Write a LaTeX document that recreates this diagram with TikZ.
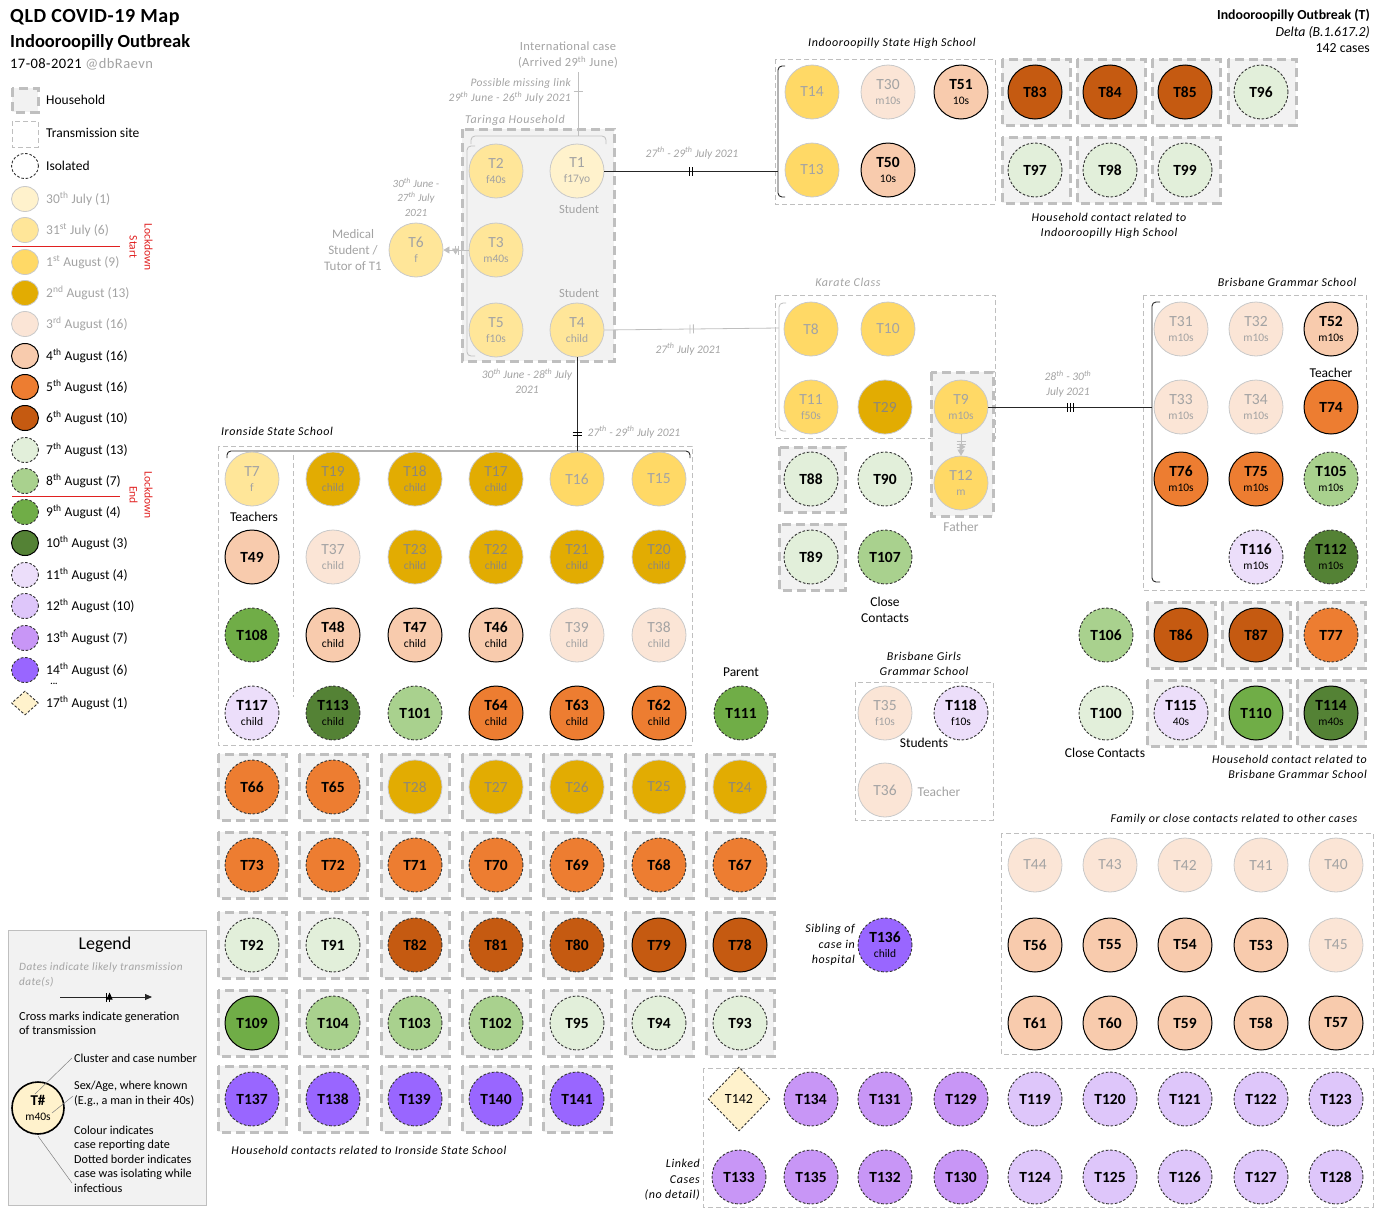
\documentclass[tikz,border=0pt]{standalone}
\usepackage{fontspec}
\setmainfont{Carlito}
\usetikzlibrary{shapes.geometric,arrows.meta,decorations.markings}
\definecolor{c30}{HTML}{FFF2CC}
\definecolor{c31}{HTML}{FFE699}
\definecolor{c1}{HTML}{FFD966}
\definecolor{c2}{HTML}{E2AC02}
\definecolor{c3}{HTML}{FBE5D6}
\definecolor{c4}{HTML}{F8CBAD}
\definecolor{c5}{HTML}{ED7D31}
\definecolor{c6}{HTML}{C55A11}
\definecolor{c7}{HTML}{E2EFDA}
\definecolor{c8}{HTML}{A9D18E}
\definecolor{c9}{HTML}{70AD47}
\definecolor{c10}{HTML}{548235}
\definecolor{c11}{HTML}{ECDEFA}
\definecolor{c12}{HTML}{DEC6FA}
\definecolor{c13}{HTML}{C896F6}
\definecolor{c14}{HTML}{9966FF}
\definecolor{oldline}{HTML}{C9C9C9}
\definecolor{oldtext}{HTML}{A3A3A3}
\definecolor{goldtext}{HTML}{8E8878}
\definecolor{hhfill}{HTML}{F2F2F2}
\definecolor{hhline}{HTML}{BFBFBF}
\definecolor{isoline}{HTML}{333333}
\definecolor{lockred}{HTML}{E02020}
\newcommand\sbt[1]{{\fontsize{11.5}{12}\selectfont\mdseries #1}}
\newcommand\hhb[2]{\draw[hh] ({#1-34},{#2-33}) rectangle ({#1+34},{#2+33});}
\newcommand\thsup{\textsuperscript{th}}
\tikzset{
  case/.style={circle, minimum size=54pt, inner sep=0pt, align=center},
  old/.style={draw=oldline, line width=0.8pt, text=oldtext, font=\fontsize{15.5}{15}\selectfont},
  new/.style={draw=black, line width=1pt, text=black, font=\fontsize{15.5}{15}\selectfont\bfseries},
  iso/.style={draw=isoline, line width=0.9pt, dash pattern=on 2.6pt off 1.8pt},
  d30/.style={case, old, fill=c30},
  d31/.style={case, old, fill=c31},
  d1/.style={case, old, fill=c1},
  d2/.style={case, old, fill=c2, text=goldtext},
  d3/.style={case, old, fill=c3},
  d4/.style={case, new, fill=c4},
  d5/.style={case, new, fill=c5},
  d6/.style={case, new, fill=c6},
  d7/.style={case, new, fill=c7, iso},
  d8/.style={case, new, fill=c8, iso},
  d9/.style={case, new, fill=c9},
  d10/.style={case, new, fill=c10},
  d11/.style={case, new, fill=c11, iso},
  d12/.style={case, new, fill=c12, iso},
  d13/.style={case, new, fill=c13, iso},
  d14/.style={case, new, fill=c14, iso},
  lg/.style={ellipse, minimum width=27pt, minimum height=25pt, inner sep=0pt},
  hh/.style={fill=hhfill, draw=hhline, line width=3pt, dash pattern=on 9pt off 5pt},
  site/.style={draw=hhline, line width=0.8pt, dash pattern=on 5pt off 3pt},
  lbl/.style={font=\fontsize{13.5}{16}\selectfont, inner sep=0pt, align=center},
  glbl/.style={lbl, text=oldtext},
  ilbl/.style={font=\fontsize{12}{15.5}\selectfont\itshape\addfontfeatures{LetterSpace=5}, inner sep=0pt, align=center},
  gilbl/.style={ilbl, text=oldtext},
  dlbl/.style={font=\fontsize{11.5}{15}\selectfont\itshape, inner sep=0pt, align=center, text=oldtext},
  sm/.style={lbl, anchor=west, align=left, font=\fontsize{12.2}{14.5}\selectfont},
  link/.style={line width=0.9pt, draw=black!85},
  glink/.style={line width=0.8pt, draw=hhline},
  tkb2/.style={postaction={decorate, decoration={markings, mark=at position #1 with {\draw[black, line width=0.9pt] (-1.7pt,-4.5pt) -- (-1.7pt,4.5pt) (1.7pt,-4.5pt) -- (1.7pt,4.5pt);}}}},
  tkb3/.style={postaction={decorate, decoration={markings, mark=at position #1 with {\draw[black, line width=0.9pt] (-3pt,-4.5pt) -- (-3pt,4.5pt) (0pt,-4.5pt) -- (0pt,4.5pt) (3pt,-4.5pt) -- (3pt,4.5pt);}}}},
  tkg1/.style={postaction={decorate, decoration={markings, mark=at position #1 with {\draw[hhline, line width=0.8pt] (0pt,-4.5pt) -- (0pt,4.5pt);}}}},
  tkg2/.style={postaction={decorate, decoration={markings, mark=at position #1 with {\draw[hhline, line width=0.8pt] (-1.7pt,-4.5pt) -- (-1.7pt,4.5pt) (1.7pt,-4.5pt) -- (1.7pt,4.5pt);}}}},
  tkg3/.style={postaction={decorate, decoration={markings, mark=at position #1 with {\draw[hhline, line width=0.8pt] (-3pt,-4.5pt) -- (-3pt,4.5pt) (0pt,-4.5pt) -- (0pt,4.5pt) (3pt,-4.5pt) -- (3pt,4.5pt);}}}},
}
\begin{document}
\begin{tikzpicture}[x=1pt,y=-1pt]
\useasboundingbox (0,0) rectangle (1380,1210);

% ---------- title ----------
\node[anchor=west, inner sep=0pt, font=\fontsize{20}{22}\selectfont\bfseries\addfontfeatures{LetterSpace=3}] (title1) at (10,18) {QLD COVID-19 Map};
\node[anchor=west, inner sep=0pt, font=\fontsize{18.5}{20}\selectfont\bfseries] (title2) at (10,42) {Indooroopilly Outbreak};
\node[anchor=west, inner sep=0pt, font=\fontsize{14.5}{16}\selectfont\addfontfeatures{LetterSpace=3}] (title3) at (10,64) {17-08-2021 \textcolor{oldtext}{@dbRaevn}};
\node[anchor=east, inner sep=0pt, align=right, font=\fontsize{13.8}{16.5}\selectfont] (trtitle) at (1370,31) {\textbf{Indooroopilly Outbreak (T)}\\\textit{Delta (B.1.617.2)}\\142 cases};

% ---------- left legend ----------
\draw[hh] (12,88) rectangle (38,112);
\node[lbl, anchor=west] (lhh) at (46,100) {Household};
\draw[site] (12,121) rectangle (38,147);
\node[lbl, anchor=west] (lsite) at (46,133) {Transmission site};
\node[lg, fill=white, iso] (Liso) at (25,166) {};
\node[lbl, anchor=west] (liso) at (46,166) {Isolated};
\node[lg, old, fill=c30] (L30) at (25,199) {};
\node[glbl, anchor=west] (l30) at (46,199) {30\thsup{} July (1)};
\node[lg, old, fill=c31] (L31) at (25,230) {};
\node[glbl, anchor=west] (l31) at (46,230) {31\textsuperscript{st} July (6)};
\node[lg, old, fill=c1] (L1) at (25,262) {};
\node[glbl, anchor=west] (l1) at (46,262) {1\textsuperscript{st} August (9)};
\node[lg, old, fill=c2] (L2) at (25,293) {};
\node[glbl, anchor=west] (l2) at (46,293) {2\textsuperscript{nd} August (13)};
\node[lg, old, fill=c3] (L3) at (25,324) {};
\node[glbl, anchor=west] (l3) at (46,324) {3\textsuperscript{rd} August (16)};
\node[lg, new, fill=c4] (L4) at (25,356) {};
\node[lbl, anchor=west] (l4) at (46,356) {4\thsup{} August (16)};
\node[lg, new, fill=c5] (L5) at (25,387) {};
\node[lbl, anchor=west] (l5) at (46,387) {5\thsup{} August (16)};
\node[lg, new, fill=c6] (L6) at (25,418) {};
\node[lbl, anchor=west] (l6) at (46,418) {6\thsup{} August (10)};
\node[lg, new, fill=c7, iso] (L7) at (25,450) {};
\node[lbl, anchor=west] (l7) at (46,450) {7\thsup{} August (13)};
\node[lg, new, fill=c8, iso] (L8) at (25,481) {};
\node[lbl, anchor=west] (l8) at (46,481) {8\thsup{} August (7)};
\node[lg, new, fill=c9, iso] (L9) at (25,512) {};
\node[lbl, anchor=west] (l9) at (46,512) {9\thsup{} August (4)};
\node[lg, new, fill=c10] (L10) at (25,543) {};
\node[lbl, anchor=west] (l10) at (46,543) {10\thsup{} August (3)};
\node[lg, new, fill=c11, iso] (L11) at (25,575) {};
\node[lbl, anchor=west] (l11) at (46,575) {11\thsup{} August (4)};
\node[lg, new, fill=c12, iso] (L12) at (25,606) {};
\node[lbl, anchor=west] (l12) at (46,606) {12\thsup{} August (10)};
\node[lg, new, fill=c13, iso] (L13) at (25,638) {};
\node[lbl, anchor=west] (l13) at (46,638) {13\thsup{} August (7)};
\node[lg, new, fill=c14, iso] (L14) at (25,670) {};
\node[lbl, anchor=west] (l14) at (46,670) {14\thsup{} August (6)};
\node[lbl, font=\fontsize{9}{9}\selectfont\bfseries] (ldots) at (54,684) {...};
\node[diamond, fill=c30, iso, minimum width=27pt, minimum height=24pt, inner sep=0pt] (L17) at (25,703) {};
\node[lbl, anchor=west] (l17) at (46,703) {17\thsup{} August (1)};
\draw[lockred, line width=0.8pt] (12,246) -- (120,246);
\draw[lockred, line width=0.8pt] (12,496) -- (120,496);
\node[rotate=-90, text=lockred, inner sep=0pt, align=center, font=\fontsize{11.5}{15}\selectfont] (lockS) at (141,247) {Lockdown\\Start};
\node[rotate=-90, text=lockred, inner sep=0pt, align=center, font=\fontsize{11.5}{15}\selectfont] (lockE) at (141,495) {Lockdown\\End};

% ---------- bottom-left legend ----------
\draw[draw=hhline, fill=hhfill, line width=0.8pt] (8,930) rectangle (206,1205);
\node[inner sep=0pt, font=\fontsize{18}{20}\selectfont] (legT) at (105,945) {Legend};
\node[gilbl, anchor=west, align=left, font=\fontsize{11.2}{15.5}\selectfont\itshape\addfontfeatures{LetterSpace=4}] (legD) at (19,975) {Dates indicate likely transmission\\date(s)};
\coordinate (la1) at (60,997);
\coordinate (la2) at (152,997);
\draw[link, -{Triangle[length=7pt,width=6pt]}, tkb2=0.52] (la1) -- (la2);
\node[sm, font=\fontsize{12.4}{14.5}\selectfont] (legC) at (19,1023) {Cross marks indicate generation\\of transmission};
\node[circle, minimum size=52pt, inner sep=0pt, draw=black, line width=1.6pt, fill=c30, align=center, font=\fontsize{15}{15}\selectfont\bfseries] (LT) at (38,1108) {T\#\\\sbt{m40s}};
\node[sm] (legN) at (74,1058) {Cluster and case number};
\node[sm] (legS) at (74,1094) {Sex/Age, where known\\(E.g., a man in their 40s)};
\node[sm] (legK) at (74,1159) {Colour indicates\\case reporting date\\Dotted border indicates\\case was isolating while\\infectious};
\coordinate (lp1) at (35,1094);
\coordinate (lq1) at (72,1058);
\coordinate (lp2) at (52,1113);
\coordinate (lq2) at (73,1096);
\coordinate (lp3) at (38,1136);
\coordinate (lq3) at (72,1183);
\draw[line width=0.5pt, draw=gray] (lp1) -- (lq1);
\draw[line width=0.5pt, draw=gray] (lp2) -- (lq2);
\draw[line width=0.5pt, draw=gray] (lp3) -- (lq3);

% ---------- Taringa household ----------
\draw[hh] (462,129) rectangle (614,361);
\node[gilbl] (taringaT) at (515,120) {Taringa Household};
\draw[glink, rounded corners=4pt] (471,144) -- (471,136) -- (606,136) -- (606,144);
\draw[glink, rounded corners=4pt] (475,146) -- (467,146) -- (467,356) -- (475,356);
\coordinate (tarTop) at (578,136);
\node[d31] (T2) at (496,171) {T2\\\sbt{f40s}};
\node[d30] (T1) at (577,171) {T1\\\sbt{f17yo}};
\node[d31] (T3) at (496,250) {T3\\\sbt{m40s}};
\node[d31] (T5) at (496,330) {T5\\\sbt{f10s}};
\node[d31] (T4) at (577,330) {T4\\\sbt{child}};
\node[d31] (T6) at (416,250) {T6\\\sbt{f}};
\node[glbl, font=\fontsize{12.5}{16}\selectfont] (stu1) at (579,209) {Student};
\node[glbl, font=\fontsize{12.5}{16}\selectfont] (stu2) at (579,293) {Student};
\node[dlbl, font=\fontsize{11}{14.5}\selectfont\itshape] (t6date) at (416,197) {30\thsup{} June -\\27\thsup{} July\\2021};
\node[glbl, font=\fontsize{13}{16}\selectfont] (t6role) at (353,250) {Medical\\Student /\\Tutor of T1};
\node[dlbl] (tardate) at (527,381) {30\thsup{} June - 28\thsup{} July\\2021};
\node[glbl, font=\fontsize{12.5}{16}\selectfont\addfontfeatures{LetterSpace=3}] (intl) at (568,55) {International case\\(Arrived 29\thsup{} June)};
\node[dlbl, align=right, anchor=east, font=\fontsize{11.5}{15}\selectfont\itshape\addfontfeatures{LetterSpace=3}] (miss) at (571,91) {Possible missing link\\29\thsup{} June - 26\thsup{} July 2021};
\coordinate (intlEnd) at (578,72);
\draw[glink, tkg1=0.31] (intlEnd) -- (tarTop);
\draw[glink, -{Triangle[length=6pt,width=7pt]}, tkg3=0.4] (T3.west) -- (T6.east);

% ---------- Indooroopilly State High School ----------
\draw[site] (775,59) rectangle (995,204);
\node[ilbl] (ishsT) at (892,43) {Indooroopilly State High School};
\draw[link, rounded corners=4pt] (785,66) -- (778,66) -- (778,197) -- (785,197);
\coordinate (ishsB) at (778,171);
\node[d1] (T14) at (812,92) {T14};
\node[d3] (T30) at (888,92) {T30\\\sbt{m10s}};
\node[d4] (T51) at (961,92) {T51\\\sbt{10s}};
\node[d1] (T13) at (812,170) {T13};
\node[d4] (T50) at (888,170) {T50\\\sbt{10s}};
\draw[link, tkb2=0.5] (T1.east) -- (ishsB);
\node[dlbl] (dT1) at (692,153) {27\thsup{} - 29\thsup{} July 2021};
\hhb{1036}{92}\hhb{1111}{92}\hhb{1186}{92}\hhb{1262}{92}
\hhb{1036}{170}\hhb{1111}{170}\hhb{1186}{170}
\node[d6] (T83) at (1035,92) {T83};
\node[d6] (T84) at (1110,92) {T84};
\node[d6] (T85) at (1185,92) {T85};
\node[d7] (T96) at (1261,92) {T96};
\node[d7] (T97) at (1035,170) {T97};
\node[d7] (T98) at (1110,170) {T98};
\node[d7] (T99) at (1185,170) {T99};
\node[ilbl] (hhIS) at (1109,226) {Household contact related to\\Indooroopilly High School};

% ---------- Karate class ----------
\draw[site] (775,295) rectangle (995,438);
\node[gilbl] (karT) at (848,282) {Karate Class};
\draw[glink, rounded corners=4pt] (786,303) -- (779,303) -- (779,431) -- (786,431);
\coordinate (karB) at (779,328);
\draw[hh] (931,372) rectangle (993,516);
\node[d1] (T8) at (811,329) {T8};
\node[d1] (T10) at (888,329) {T10};
\node[d1] (T11) at (811,407) {T11\\\sbt{f50s}};
\node[d2] (T29) at (885,407) {T29};
\node[d1] (T9) at (961,407) {T9\\\sbt{m10s}};
\node[d1] (T12) at (961,483) {T12\\\sbt{m}};
\node[glbl] (father) at (961,527) {Father};
\draw[glink, tkg2=0.5] (T4.east) -- (karB);
\node[dlbl] (dT4) at (688,349) {27\thsup{} July 2021};
\draw[glink, -{Triangle[length=6pt,width=7pt]}, tkg3=0.45] (T9.south) -- (T12.north);
\draw[hh] (779,447) rectangle (845,512);
\draw[hh] (779,524) rectangle (845,590);
\node[d7] (T88) at (811,479) {T88};
\node[d7] (T90) at (885,479) {T90};
\node[d7] (T89) at (811,557) {T89};
\node[d8] (T107) at (885,557) {T107};
\node[lbl] (ccK) at (885,610) {Close\\Contacts};

% ---------- Brisbane Grammar School ----------
\draw[site] (1143,295) rectangle (1366,590);
\node[ilbl] (bgsT) at (1287,282) {Brisbane Grammar School};
\draw[link, rounded corners=4pt] (1160,302) -- (1152,302) -- (1152,582) -- (1160,582);
\coordinate (bgsB) at (1152,407);
\node[d3] (T31) at (1181,329) {T31\\\sbt{m10s}};
\node[d3] (T32) at (1256,329) {T32\\\sbt{m10s}};
\node[d4] (T52) at (1331,329) {T52\\\sbt{m10s}};
\node[lbl] (teachB) at (1331,373) {Teacher};
\node[d3] (T33) at (1181,407) {T33\\\sbt{m10s}};
\node[d3] (T34) at (1256,407) {T34\\\sbt{m10s}};
\node[d5] (T74) at (1331,407) {T74};
\node[d5] (T76) at (1181,479) {T76\\\sbt{m10s}};
\node[d5] (T75) at (1256,479) {T75\\\sbt{m10s}};
\node[d8] (T105) at (1331,479) {T105\\\sbt{m10s}};
\node[d11] (T116) at (1256,557) {T116\\\sbt{m10s}};
\node[d10, iso] (T112) at (1331,557) {T112\\\sbt{m10s}};
\draw[link, tkb3=0.5] (T9.east) -- (bgsB);
\node[dlbl] (dT9) at (1068,384) {28\thsup{} - 30\thsup{}\\July 2021};
\hhb{1181}{635}\hhb{1256}{635}\hhb{1331}{635}
\hhb{1181}{713}\hhb{1256}{713}\hhb{1331}{713}
\node[d8] (T106) at (1106,635) {T106};
\node[d6] (T86) at (1181,635) {T86};
\node[d6] (T87) at (1256,635) {T87};
\node[d5, iso] (T77) at (1331,635) {T77};
\node[d7] (T100) at (1106,713) {T100};
\node[d11] (T115) at (1181,713) {T115\\\sbt{40s}};
\node[d9] (T110) at (1256,713) {T110};
\node[d10] (T114) at (1331,713) {T114\\\sbt{m40s}};
\node[lbl] (ccB) at (1105,753) {Close Contacts};
\node[ilbl, align=right, anchor=east] (hhBG) at (1367,767) {Household contact related to\\Brisbane Grammar School};

% ---------- Brisbane Girls Grammar ----------
\node[ilbl] (bggT) at (924,664) {Brisbane Girls\\Grammar School};
\draw[site] (855,682) rectangle (993,820);
\node[d3] (T35) at (885,713) {T35\\\sbt{f10s}};
\node[d11] (T118) at (961,713) {T118\\\sbt{f10s}};
\node[lbl] (students) at (924,743) {Students};
\node[d3] (T36) at (885,790) {T36};
\node[glbl] (teachG) at (939,792) {Teacher};

% ---------- T136 ----------
\node[d14] (T136) at (885,945) {T136\\\sbt{child}};
\node[ilbl, align=right, anchor=east] (sib) at (855,945) {Sibling of\\case in\\hospital};

% ---------- Family or close contacts ----------
\node[ilbl] (famT) at (1234,819) {Family or close contacts related to other cases};
\draw[site] (1001,833) rectangle (1373,1054);
\node[d3] (T44) at (1035,865) {T44};
\node[d3] (T43) at (1110,865) {T43};
\node[d3] (T42) at (1185,865) {T42};
\node[d3] (T41) at (1261,865) {T41};
\node[d3] (T40) at (1336,865) {T40};
\node[d4] (T56) at (1035,945) {T56};
\node[d4] (T55) at (1110,945) {T55};
\node[d4] (T54) at (1185,945) {T54};
\node[d4] (T53) at (1261,945) {T53};
\node[d3] (T45) at (1336,945) {T45};
\node[d4] (T61) at (1035,1023) {T61};
\node[d4] (T60) at (1110,1023) {T60};
\node[d4] (T59) at (1185,1023) {T59};
\node[d4] (T58) at (1261,1023) {T58};
\node[d4] (T57) at (1336,1023) {T57};

% ---------- Linked cases ----------
\draw[site] (703,1068) rectangle (1373,1207);
\node[diamond, fill=c30, iso, minimum width=62pt, minimum height=64pt, inner sep=0pt, font=\fontsize{14}{14}\selectfont] (T142) at (739,1099) {T142};
\node[d13] (T134) at (811,1099) {T134};
\node[d13] (T131) at (885,1099) {T131};
\node[d13] (T129) at (961,1099) {T129};
\node[d12] (T119) at (1035,1099) {T119};
\node[d12] (T120) at (1110,1099) {T120};
\node[d12] (T121) at (1185,1099) {T121};
\node[d12] (T122) at (1261,1099) {T122};
\node[d12] (T123) at (1336,1099) {T123};
\node[d13] (T133) at (739,1177) {T133};
\node[d13] (T135) at (811,1177) {T135};
\node[d13] (T132) at (885,1177) {T132};
\node[d13] (T130) at (961,1177) {T130};
\node[d12] (T124) at (1035,1177) {T124};
\node[d12] (T125) at (1110,1177) {T125};
\node[d12] (T126) at (1185,1177) {T126};
\node[d12] (T127) at (1261,1177) {T127};
\node[d12] (T128) at (1336,1177) {T128};
\node[ilbl, align=right, anchor=east] (linkedT) at (700,1180) {Linked\\Cases\\(no detail)};

% ---------- Ironside State School ----------
\node[ilbl] (isT) at (277,431) {Ironside State School};
\draw[site] (218,446) rectangle (692,745);
\draw[link, rounded corners=4pt] (227,458) -- (227,451) -- (690,451) -- (690,458);
\coordinate (isB) at (577,451);
\coordinate (divTop) at (293,455);
\coordinate (divBot) at (293,697);
\draw[site] (divTop) -- (divBot);
\node[d31] (T7) at (252,479) {T7\\\sbt{f}};
\node[d2] (T19) at (333,479) {T19\\\sbt{child}};
\node[d2] (T18) at (415,479) {T18\\\sbt{child}};
\node[d2] (T17) at (496,479) {T17\\\sbt{child}};
\node[d1] (T16) at (577,479) {T16};
\node[d1] (T15) at (659,479) {T15};
\node[lbl] (teachers) at (254,517) {Teachers};
\node[d4] (T49) at (252,557) {T49};
\node[d3] (T37) at (333,557) {T37\\\sbt{child}};
\node[d2] (T23) at (415,557) {T23\\\sbt{child}};
\node[d2] (T22) at (496,557) {T22\\\sbt{child}};
\node[d2] (T21) at (577,557) {T21\\\sbt{child}};
\node[d2] (T20) at (659,557) {T20\\\sbt{child}};
\node[d9, iso] (T108) at (252,635) {T108};
\node[d4] (T48) at (333,635) {T48\\\sbt{child}};
\node[d4] (T47) at (415,635) {T47\\\sbt{child}};
\node[d4] (T46) at (496,635) {T46\\\sbt{child}};
\node[d3] (T39) at (577,635) {T39\\\sbt{child}};
\node[d3] (T38) at (659,635) {T38\\\sbt{child}};
\node[d11] (T117) at (252,713) {T117\\\sbt{child}};
\node[d10, iso] (T113) at (333,713) {T113\\\sbt{child}};
\node[d8] (T101) at (415,713) {T101};
\node[d5] (T64) at (496,713) {T64\\\sbt{child}};
\node[d5] (T63) at (577,713) {T63\\\sbt{child}};
\node[d5] (T62) at (659,713) {T62\\\sbt{child}};
\node[d9, iso] (T111) at (741,713) {T111};
\node[lbl] (parent) at (741,672) {Parent};
\draw[link, tkb2=0.82] (T4.south) -- (isB);
\node[dlbl] (dIS) at (634,432) {27\thsup{} - 29\thsup{} July 2021};

% ---------- Ironside household contacts ----------
\hhb{252}{787}\hhb{333}{787}\hhb{415}{787}\hhb{496}{787}\hhb{577}{787}\hhb{659}{787}\hhb{740}{787}
\hhb{252}{865}\hhb{333}{865}\hhb{415}{865}\hhb{496}{865}\hhb{577}{865}\hhb{659}{865}\hhb{740}{865}
\hhb{252}{945}\hhb{333}{945}\hhb{415}{945}\hhb{496}{945}\hhb{577}{945}\hhb{659}{945}\hhb{740}{945}
\hhb{252}{1023}\hhb{333}{1023}\hhb{415}{1023}\hhb{496}{1023}\hhb{577}{1023}\hhb{659}{1023}\hhb{740}{1023}
\hhb{252}{1099}\hhb{333}{1099}\hhb{415}{1099}\hhb{496}{1099}\hhb{577}{1099}
\node[d5, iso] (T66) at (252,787) {T66};
\node[d5, iso] (T65) at (333,787) {T65};
\node[d2] (T28) at (415,787) {T28};
\node[d2] (T27) at (496,787) {T27};
\node[d2] (T26) at (577,787) {T26};
\node[d2] (T25) at (659,787) {T25};
\node[d2] (T24) at (740,787) {T24};
\node[d5, iso] (T73) at (252,865) {T73};
\node[d5, iso] (T72) at (333,865) {T72};
\node[d5, iso] (T71) at (415,865) {T71};
\node[d5, iso] (T70) at (496,865) {T70};
\node[d5, iso] (T69) at (577,865) {T69};
\node[d5, iso] (T68) at (659,865) {T68};
\node[d5, iso] (T67) at (740,865) {T67};
\node[d7] (T92) at (252,945) {T92};
\node[d7] (T91) at (333,945) {T91};
\node[d6, iso] (T82) at (415,945) {T82};
\node[d6, iso] (T81) at (496,945) {T81};
\node[d6, iso] (T80) at (577,945) {T80};
\node[d6] (T79) at (659,945) {T79};
\node[d6] (T78) at (740,945) {T78};
\node[d9] (T109) at (252,1023) {T109};
\node[d8] (T104) at (333,1023) {T104};
\node[d8] (T103) at (415,1023) {T103};
\node[d8] (T102) at (496,1023) {T102};
\node[d7] (T95) at (577,1023) {T95};
\node[d7] (T94) at (659,1023) {T94};
\node[d7] (T93) at (740,1023) {T93};
\node[d14] (T137) at (252,1099) {T137};
\node[d14] (T138) at (333,1099) {T138};
\node[d14] (T139) at (415,1099) {T139};
\node[d14] (T140) at (496,1099) {T140};
\node[d14] (T141) at (577,1099) {T141};
\node[ilbl] (hhIR) at (369,1150) {Household contacts related to Ironside State School};
\end{tikzpicture}
\end{document}
